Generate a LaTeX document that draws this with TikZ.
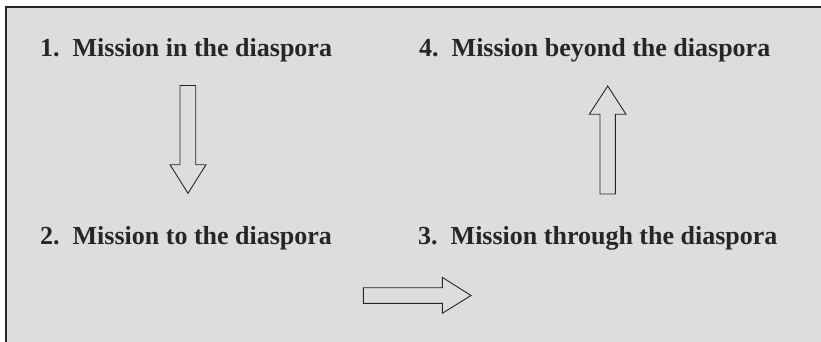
\documentclass[tikz,border=0pt]{standalone}
\usepackage{fontspec}
\setmainfont{Liberation Serif}
\definecolor{panel}{HTML}{DCDDDF}
\definecolor{ink}{HTML}{262626}
\begin{document}
\begin{tikzpicture}[x=1pt,y=-1pt,
  label/.style={anchor=base west,inner sep=0pt,font=\fontsize{26}{30}\selectfont\bfseries,text=ink},
  blockarrow/.style={draw=ink,line width=0.9pt,fill=panel,line join=miter}]
\useasboundingbox (0,0) rectangle (821,342);
\fill[white] (0,0) rectangle (821,342);
\fill[panel] (6,7) rectangle (825,346);
\draw[ink,line width=2pt] (6,346) -- (6,7) -- (825,7);
\node[label] (t1) at (40,57) {1.\ \ Mission in the diaspora};
\node[label] (t4) at (419,57) {4.\ \ Mission beyond the diaspora};
\node[label] (t2) at (40,244) {2.\ \ Mission to the diaspora};
\node[label] (t3) at (418,244) {3.\ \ Mission through the diaspora};
% down arrow
\draw[blockarrow] (180,85.5) -- (195.7,85.5) -- (195.7,164.7) -- (206,164.7) -- (188,193.3) -- (170,164.7) -- (180,164.7) -- cycle;
% up arrow
\draw[blockarrow] (600,194) -- (615.3,194) -- (615.3,114.3) -- (626,114.3) -- (607.7,86) -- (589.3,114.3) -- (600,114.3) -- cycle;
% right arrow
\draw[blockarrow] (363.3,287.7) -- (442.3,287.7) -- (442.3,277.3) -- (471,295.5) -- (442.3,313.3) -- (442.3,303.3) -- (363.3,303.3) -- cycle;
\end{tikzpicture}
\end{document}
